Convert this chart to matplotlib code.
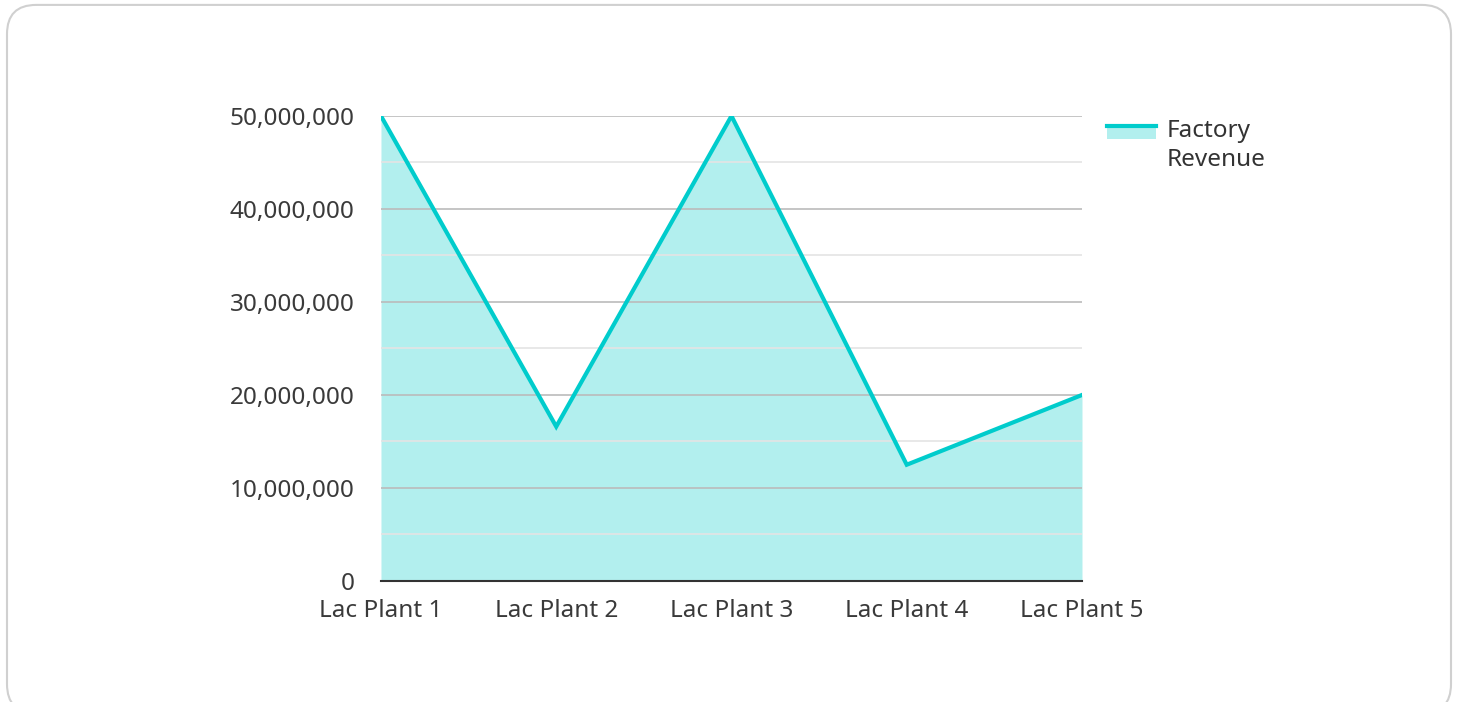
import matplotlib.pyplot as plt
from matplotlib.patches import Rectangle, FancyBboxPatch
from matplotlib.lines import Line2D
from matplotlib.legend_handler import HandlerBase
from matplotlib.ticker import FuncFormatter, MultipleLocator

plt.rcParams['font.family'] = ['Noto Sans', 'DejaVu Sans']

plants = ["Lac Plant 1", "Lac Plant 2", "Lac Plant 3", "Lac Plant 4", "Lac Plant 5"]
revenue = [50000000, 16600000, 50000000, 12500000, 20000000]

line_color = "#00cccc"
fill_color = "#b2efee"


class AreaHandler(HandlerBase):
    # line on top of a filled box, like the area legend in the reference
    def create_artists(self, legend, orig_handle, xdescent, ydescent, width, height, fontsize, trans):
        top = height - ydescent + 9.5
        box = Rectangle((-xdescent, top - 11), width, 11, facecolor=fill_color, edgecolor='none', transform=trans)
        ln = Line2D([-xdescent, width - xdescent], [top - 1.2, top - 1.2], color=line_color, linewidth=3,
                    transform=trans)
        return [box, ln]


fig = plt.figure(figsize=(14.58, 7.02), dpi=100)
border = FancyBboxPatch((7 / 1458, -0.016), 1444 / 1458, 1.009, boxstyle="round,pad=0,rounding_size=0.02",
                        transform=fig.transFigure, facecolor="white", edgecolor="#d0d0d0",
                        linewidth=1.5, mutation_aspect=1458 / 702, zorder=-1)
fig.patches.append(border)

ax = fig.add_axes([0.2613, 0.1724, 0.4808, 0.6624])
ax.patch.set_alpha(0)
x = list(range(len(plants)))
ax.fill_between(x, revenue, 0, color=fill_color, linewidth=0, zorder=1)
ax.plot(x, revenue, color=line_color, linewidth=3, zorder=3, solid_joinstyle='miter')

ax.set_xlim(0, len(plants) - 1)
ax.set_ylim(0, 50000000)
ax.yaxis.set_major_locator(MultipleLocator(10000000))
ax.yaxis.set_minor_locator(MultipleLocator(5000000))
ax.yaxis.set_major_formatter(FuncFormatter(lambda v, p: "{:,.0f}".format(v)))
ax.grid(axis='y', which='major', color='#bbbbbb', linewidth=1.2, zorder=2)
ax.grid(axis='y', which='minor', color='#e4e4e4', linewidth=1.2, zorder=2)
ax.set_axisbelow(False)
ax.set_xticks(x)
ax.set_xticklabels(plants)
ax.tick_params(axis='both', which='both', length=0, labelsize=17.5, labelcolor='#3a3a3a')
ax.tick_params(axis='y', pad=19)
ax.tick_params(axis='x', pad=13)
for s in ['top', 'right', 'left']:
    ax.spines[s].set_visible(False)
ax.spines['bottom'].set_color('#333333')
ax.spines['bottom'].set_linewidth(1.5)
ax.spines['bottom'].set_zorder(4)

handle = object()
leg = fig.legend([handle], ["Factory\nRevenue"], loc='upper left', bbox_to_anchor=(0.744, 0.862),
                 frameon=False, fontsize=17.5, handlelength=2.05, handleheight=0.7, handletextpad=0.4,
                 labelcolor='#333333', handler_map={object: AreaHandler()})
for t in leg.get_texts():
    t.set_linespacing(1.28)

fig.savefig("out.png", dpi=100)
